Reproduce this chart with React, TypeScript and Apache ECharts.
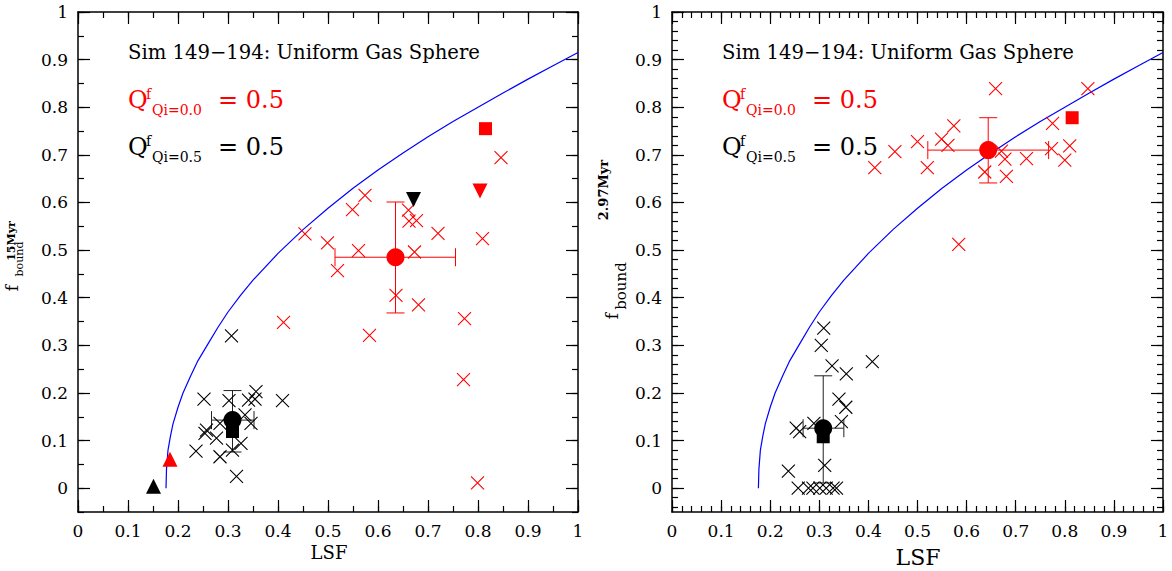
import { useEffect, useRef } from "react";
import * as echarts from "echarts";

const FONT = "'DejaVu Serif', serif";

// ---- axis ticks / labels ----
const xMajorTicks = [0, 0.1, 0.2, 0.3, 0.4, 0.5, 0.6, 0.7, 0.8, 0.9, 1];
const yMajorTicks = [0, 0.1, 0.2, 0.3, 0.4, 0.5, 0.6, 0.7, 0.8, 0.9, 1];
const yMin = -0.05;
const yMax = 1;
const leftMinorStep = 0.05;
const rightMinorStep = 0.02;

// ---- theoretical curve (blue) ----
const curveLSF = [0.176, 0.177, 0.18, 0.185, 0.19, 0.2, 0.21, 0.225, 0.24, 0.26, 0.28, 0.3, 0.325, 0.35, 0.4, 0.45, 0.5, 0.55, 0.6, 0.65, 0.7, 0.75, 0.8, 0.85, 0.9, 0.95, 1.0];
const curveF = [0, 0.04, 0.08, 0.11, 0.135, 0.17, 0.2, 0.235, 0.268, 0.303, 0.338, 0.37, 0.405, 0.437, 0.493, 0.543, 0.588, 0.63, 0.668, 0.704, 0.738, 0.77, 0.8, 0.83, 0.859, 0.887, 0.915];

// ---- left panel (15 Myr) ----
const leftRedCrosses = [
  [0.454, 0.534], [0.499, 0.515], [0.519, 0.457], [0.549, 0.585], [0.574, 0.615],
  [0.561, 0.499], [0.583, 0.321], [0.636, 0.405], [0.661, 0.584], [0.662, 0.561],
  [0.677, 0.562], [0.673, 0.496], [0.681, 0.385], [0.72, 0.535], [0.773, 0.356],
  [0.771, 0.228], [0.809, 0.524], [0.846, 0.694], [0.799, 0.011], [0.411, 0.348],
];
const leftBlackCrosses = [
  [0.307, 0.32], [0.252, 0.187], [0.302, 0.184], [0.341, 0.185], [0.356, 0.203],
  [0.354, 0.187], [0.409, 0.184], [0.334, 0.154], [0.346, 0.136], [0.257, 0.122],
  [0.254, 0.115], [0.277, 0.105], [0.284, 0.136], [0.236, 0.078], [0.284, 0.066],
  [0.309, 0.08], [0.326, 0.094], [0.317, 0.025],
];
const leftRedCircle = [[0.635, 0.485]];
const leftRedSquare = [[0.815, 0.755]];
const leftRedDownTri = [[0.804, 0.624]];
const leftRedUpTri = [[0.184, 0.061]];
const leftBlackCircle = [[0.309, 0.143]];
const leftBlackSquare = [[0.309, 0.119]];
const leftBlackDownTri = [[0.671, 0.606]];
const leftBlackUpTri = [[0.151, 0.004]];
// [x, y, xLow, xHigh, yLow, yHigh]
const leftRedErr = [[0.635, 0.485, 0.514, 0.755, 0.368, 0.601]];
const leftBlackErr = [[0.309, 0.143, 0.267, 0.352, 0.076, 0.205]];

// ---- right panel (2.97 Myr) ----
const rightRedCrosses = [
  [0.659, 0.839], [0.847, 0.839], [0.775, 0.766], [0.574, 0.761], [0.549, 0.733],
  [0.562, 0.72], [0.5, 0.728], [0.454, 0.707], [0.52, 0.673], [0.81, 0.719],
  [0.8, 0.689], [0.773, 0.713], [0.722, 0.692], [0.678, 0.691], [0.671, 0.708],
  [0.681, 0.655], [0.637, 0.664], [0.584, 0.512], [0.413, 0.673],
];
const rightBlackCrosses = [
  [0.309, 0.336], [0.304, 0.3], [0.326, 0.257], [0.355, 0.24], [0.408, 0.266],
  [0.34, 0.187], [0.354, 0.17], [0.345, 0.14], [0.289, 0.136], [0.253, 0.126],
  [0.26, 0.119], [0.311, 0.048], [0.237, 0.036], [0.257, 0], [0.278, 0],
  [0.287, 0], [0.301, 0], [0.314, 0], [0.328, 0], [0.335, 0],
];
const rightRedCircle = [[0.644, 0.71]];
const rightRedSquare = [[0.815, 0.778]];
const rightBlackCircle = [[0.308, 0.126]];
const rightBlackSquare = [[0.308, 0.108]];
const rightRedErr = [[0.644, 0.71, 0.521, 0.767, 0.641, 0.778]];
const rightBlackErr = [[0.308, 0.126, 0.267, 0.35, 0.011, 0.236]];

const RED = "#ff0000";
const BLACK = "#000000";
const BLUE = "#0000ff";
const CROSS = "path://M0,0L10,10M10,0L0,10";

function stepValues(from: number, to: number, step: number) {
  const out: number[] = [];
  const n = Math.round((to - from) / step);
  for (let i = 0; i <= n; i++) out.push(Math.round((from + i * step) * 1000) / 1000);
  return out;
}

const frameLine = { show: true, onZero: false, lineStyle: { color: "#000", width: 1.5 } };
const noLine = { show: false, onZero: false };
const tickStyle = { color: "#000", width: 1.2 };

function panelXAxes(gridIndex: number, minorStep: number) {
  const base = { type: "value", gridIndex, min: 0, max: 1, splitLine: { show: false } };
  const major = { show: true, inside: true, length: 12, lineStyle: tickStyle };
  const minor = { show: true, inside: true, length: 6, lineStyle: tickStyle };
  return [
    {
      ...base, position: "bottom", interval: 0.1, axisLine: frameLine, axisTick: major,
      axisLabel: {
        show: true, color: "#000", fontFamily: FONT, fontSize: 17, margin: 10,
        showMinLabel: true, showMaxLabel: true, customValues: xMajorTicks,
      },
    },
    { ...base, position: "bottom", interval: minorStep, axisLine: noLine, axisTick: minor, axisLabel: { show: false } },
    { ...base, position: "top", interval: 0.1, axisLine: frameLine, axisTick: major, axisLabel: { show: false } },
    { ...base, position: "top", interval: minorStep, axisLine: noLine, axisTick: minor, axisLabel: { show: false } },
  ];
}

function panelYAxes(gridIndex: number, minorTicks: number[]) {
  const base = { type: "value", gridIndex, min: yMin, max: yMax, splitLine: { show: false } };
  const major = { show: true, inside: true, length: 12, lineStyle: tickStyle, customValues: yMajorTicks };
  const minor = { show: true, inside: true, length: 6, lineStyle: tickStyle, customValues: minorTicks };
  return [
    {
      ...base, position: "left", axisLine: frameLine, axisTick: major,
      axisLabel: {
        show: true, color: "#000", fontFamily: FONT, fontSize: 17, margin: 10,
        customValues: yMajorTicks,
      },
    },
    { ...base, position: "left", axisLine: noLine, axisTick: minor, axisLabel: { show: false } },
    { ...base, position: "right", axisLine: frameLine, axisTick: major, axisLabel: { show: false } },
    { ...base, position: "right", axisLine: noLine, axisTick: minor, axisLabel: { show: false } },
  ];
}

function errSeries(data: number[][], color: string, xi: number, yi: number) {
  return {
    type: "custom",
    xAxisIndex: xi,
    yAxisIndex: yi,
    silent: true,
    z: 2,
    data,
    encode: { x: 0, y: 1 },
    renderItem: (_params: any, api: any) => {
      const x = api.value(0), y = api.value(1);
      const pL = api.coord([api.value(2), y]);
      const pH = api.coord([api.value(3), y]);
      const pB = api.coord([x, api.value(4)]);
      const pT = api.coord([x, api.value(5)]);
      const style = { stroke: color, lineWidth: 1, fill: "none" };
      const cap = 9;
      const ln = (x1: number, y1: number, x2: number, y2: number) => ({ type: "line", shape: { x1, y1, x2, y2 }, style });
      return {
        type: "group",
        children: [
          ln(pL[0], pL[1], pH[0], pH[1]),
          ln(pL[0], pL[1] - cap, pL[0], pL[1] + cap),
          ln(pH[0], pH[1] - cap, pH[0], pH[1] + cap),
          ln(pB[0], pB[1], pT[0], pT[1]),
          ln(pB[0] - cap, pB[1], pB[0] + cap, pB[1]),
          ln(pT[0] - cap, pT[1], pT[0] + cap, pT[1]),
        ],
      };
    },
  };
}

function crossSeries(data: number[][], color: string, xi: number, yi: number) {
  return {
    type: "scatter", xAxisIndex: xi, yAxisIndex: yi, data, silent: true, z: 3,
    symbol: CROSS, symbolSize: 13,
    itemStyle: { color: "transparent", borderColor: color, borderWidth: 1.1, opacity: 1 },
  };
}

function markSeries(data: number[][], color: string, symbol: string, size: number, xi: number, yi: number, rotate = 0, z = 4) {
  return {
    type: "scatter", xAxisIndex: xi, yAxisIndex: yi, data, silent: true, z,
    symbol, symbolSize: size, symbolRotate: rotate,
    itemStyle: { color, opacity: 1 },
  };
}

function curveSeries(xi: number, yi: number) {
  return {
    type: "line", xAxisIndex: xi, yAxisIndex: yi, silent: true, z: 1,
    data: curveLSF.map((v, i) => [v, curveF[i]]),
    showSymbol: false, smooth: false,
    lineStyle: { color: BLUE, width: 1.2 },
  };
}

function legendTexts(dx: number) {
  const t = (text: string, x: number, y: number, size: number, fill: string, weight = "normal") => ({
    type: "text", x: x + dx, y, silent: true,
    style: { text, fill, fontFamily: FONT, fontSize: size, fontWeight: weight, align: "left", verticalAlign: "middle" },
  });
  return [
    t("Sim 149\u2212194: Uniform Gas Sphere", 128, 52, 19.6, BLACK),
    t("Q", 128, 100, 24, RED),
    t("f", 146, 94, 14, RED),
    t("Qi=0.0", 152, 110, 14, RED),
    t("= 0.5", 218, 100, 24, RED),
    t("Q", 128, 147, 24, BLACK),
    t("f", 146, 141, 14, BLACK),
    t("Qi=0.5", 152, 157, 14, BLACK),
    t("= 0.5", 218, 147, 24, BLACK),
  ];
}

function rotText(text: string, x: number, y: number, size: number, weight = "normal") {
  return {
    type: "text", x, y, rotation: Math.PI / 2, silent: true,
    style: { text, fill: BLACK, fontFamily: FONT, fontSize: size, fontWeight: weight, align: "center", verticalAlign: "middle" },
  };
}

function plainText(text: string, x: number, y: number, size: number) {
  return {
    type: "text", x, y, silent: true,
    style: { text, fill: BLACK, fontFamily: FONT, fontSize: size, align: "center", verticalAlign: "middle" },
  };
}

export default function App() {
  const ref = useRef<HTMLDivElement>(null);
  useEffect(() => {
    if (!ref.current) return;
    const chart = echarts.init(ref.current, undefined, { renderer: "svg" });
    const leftMinorY = stepValues(-0.05, 1, leftMinorStep);
    const rightMinorY = stepValues(-0.04, 1, rightMinorStep);
    const option: any = {
      animation: false,
      backgroundColor: "#fff",
      grid: [
        { left: 78, top: 12, width: 500, height: 500, outerBoundsMode: "none", containLabel: false },
        { left: 672, top: 12, width: 491, height: 500, outerBoundsMode: "none", containLabel: false },
      ],
      xAxis: [...panelXAxes(0, leftMinorStep), ...panelXAxes(1, rightMinorStep)],
      yAxis: [...panelYAxes(0, leftMinorY), ...panelYAxes(1, rightMinorY)],
      series: [
        curveSeries(0, 0),
        errSeries(leftRedErr, RED, 0, 0),
        errSeries(leftBlackErr, "#222", 0, 0),
        crossSeries(leftRedCrosses, RED, 0, 0),
        crossSeries(leftBlackCrosses, BLACK, 0, 0),
        markSeries(leftRedSquare, RED, "rect", 13, 0, 0),
        markSeries(leftRedDownTri, RED, "triangle", 15, 0, 0, 180),
        markSeries(leftRedUpTri, RED, "triangle", 15, 0, 0),
        markSeries(leftBlackDownTri, BLACK, "triangle", 15, 0, 0, 180),
        markSeries(leftBlackUpTri, BLACK, "triangle", 15, 0, 0),
        markSeries(leftBlackSquare, BLACK, "rect", 13, 0, 0),
        markSeries(leftBlackCircle, BLACK, "circle", 18, 0, 0, 0, 5),
        markSeries(leftRedCircle, RED, "circle", 18, 0, 0, 0, 5),

        curveSeries(4, 4),
        errSeries(rightRedErr, RED, 4, 4),
        errSeries(rightBlackErr, "#222", 4, 4),
        crossSeries(rightRedCrosses, RED, 4, 4),
        crossSeries(rightBlackCrosses, BLACK, 4, 4),
        markSeries(rightRedSquare, RED, "rect", 13, 4, 4),
        markSeries(rightBlackSquare, BLACK, "rect", 13, 4, 4),
        markSeries(rightBlackCircle, BLACK, "circle", 18, 4, 4, 0, 5),
        markSeries(rightRedCircle, RED, "circle", 18, 4, 4, 0, 5),
      ],
      graphic: [
        ...legendTexts(0),
        ...legendTexts(594),
        plainText("LSF", 329, 552, 18),
        plainText("LSF", 918, 557, 22),
        rotText("f", 11.5, 288, 17),
        rotText("bound", 19, 259, 11),
        rotText("15Myr", 11.5, 241, 11, "bold"),
        rotText("f", 612, 316, 17),
        rotText("bound", 620.5, 286, 15),
        rotText("2.97Myr", 603.5, 190, 13, "bold"),
      ],
    };
    chart.setOption(option);
    return () => chart.dispose();
  }, []);
  return (
    <div
      ref={ref}
      style={{ position: "fixed", left: 0, top: 0, width: 1172, height: 571, background: "#fff" }}
    />
  );
}
